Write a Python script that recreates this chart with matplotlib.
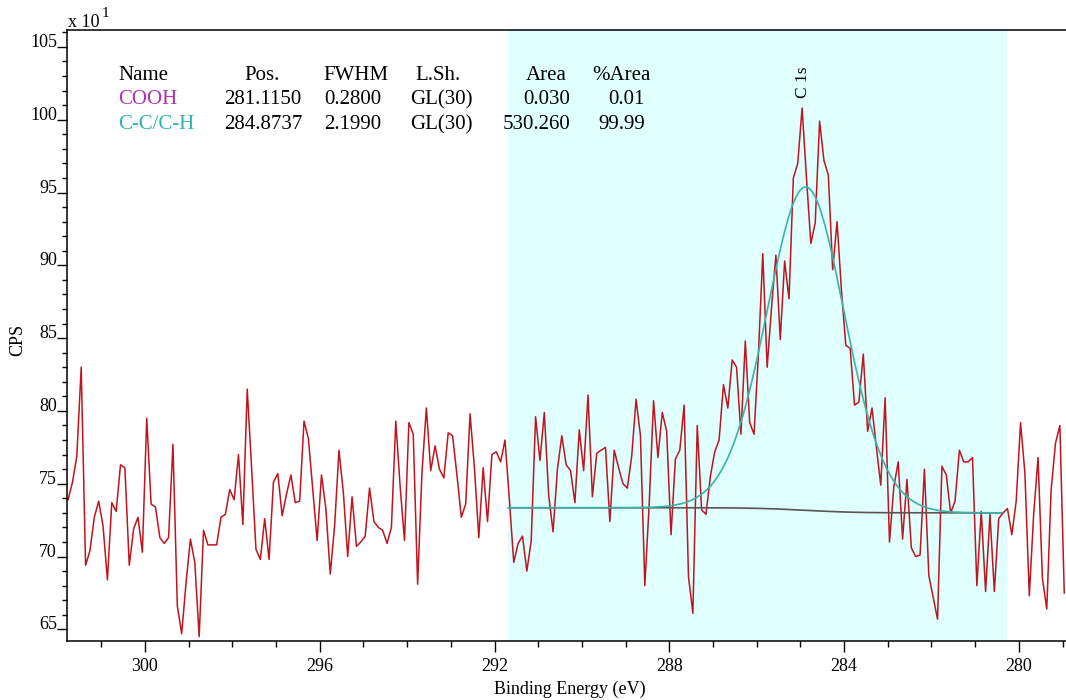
import numpy as np
import matplotlib
matplotlib.use("Agg")
import matplotlib.pyplot as plt
from matplotlib.ticker import MultipleLocator

plt.rcParams['font.family'] = ['Liberation Serif', 'DejaVu Serif']

# energy grid of the scan (eV), 0.1 eV steps going to lower binding energy
be_start = 301.76
be_step = 0.1

# counts (x 10^1)
cps = [
    73.9, 75.1, 76.9, 83.0, 69.4, 70.4, 72.7, 73.8, 72.1, 68.4,
    73.7, 73.1, 76.3, 76.1, 69.4, 71.9, 72.7, 70.3, 79.5, 73.6,
    73.4, 71.3, 70.9, 71.3, 77.7, 66.6, 64.7, 68.2, 71.2, 69.6,
    64.5, 71.8, 70.8, 70.8, 70.8, 72.7, 72.9, 74.6, 73.9, 77.0,
    72.2, 81.5, 76.1, 70.5, 69.8, 72.6, 69.8,
    75.1, 75.7, 72.8, 74.3, 75.6, 73.7, 73.8, 79.3, 78.1, 74.6,
    71.1, 75.6, 73.3, 68.8, 72.1, 77.3, 74.4, 70.0, 74.1, 70.7,
    71.0, 71.4, 74.7, 72.4, 72.0, 71.8, 70.9, 72.0, 79.3, 74.8,
    71.1, 79.2, 78.4, 68.1, 75.8, 80.2, 75.9, 77.6, 76.0, 75.4,
    78.5, 78.3, 75.6, 72.7, 73.6, 79.8, 76.1, 71.3, 76.1, 72.4,
    77.0, 77.2, 76.5, 78.0, 73.9, 69.6, 70.9,
    71.4, 69.0, 71.1, 79.6, 76.6, 79.9, 74.2, 71.7, 76.0, 78.3,
    76.3, 75.9, 73.7, 78.7, 75.9, 81.1, 74.1, 77.1, 77.3, 77.5,
    72.4, 77.3, 76.1, 75.0, 74.7, 76.9, 80.8, 78.3, 68.0, 73.6,
    80.7, 76.8, 79.9, 78.6, 71.5, 76.7, 77.3, 80.4, 68.6, 66.1,
    79.0,
    73.2, 72.9, 75.5, 77.2, 78.0, 81.8, 80.2, 83.5, 83.0, 78.4,
    84.8, 79.2, 78.4, 83.9, 90.8, 83.0, 87.1, 90.7, 84.9, 90.3,
    87.7, 96.0, 97.0, 100.8, 96.0, 91.5, 92.9, 99.9, 97.2, 96.2,
    89.7, 93.0, 88.3, 84.5, 84.3, 80.4, 80.6, 83.9, 78.6, 80.2,
    77.5, 74.9,
    80.9, 71.0, 74.8, 76.5, 71.2, 75.3, 70.6, 70.0, 70.1, 76.0,
    68.7, 67.2, 65.7, 76.2, 75.6, 73.0, 73.8, 77.3, 76.5, 76.5,
    76.8, 68.0, 73.1, 67.6, 72.9, 67.6, 72.6, 73.0, 73.3, 71.5,
    73.8, 79.2, 75.7, 67.3, 72.9, 76.8, 68.5, 66.4, 74.6, 77.8,
    79.0, 67.5,
]
be = be_start - be_step * np.arange(len(cps))

# fit region and Shirley background end values
region_lo, region_hi = 280.40, 291.68
bg_lo, bg_hi = 73.0, 73.35

# peak table
names = ["COOH", "C-C/C-H"]
name_colors = ["#b030b0", "#2fb3aa"]
pos = ["281.1150", "284.8737"]
fwhm = ["0.2800", "2.1990"]
lsh = ["GL(30)", "GL(30)"]
area = ["0.030", "530.260"]
pct = ["0.01", "99.99"]

cc_pos = 284.8737
cc_fwhm = 2.199
cc_height = 22.2


def gl(e, p, w, m=0.3):
    d = (e - p) / w
    return np.exp(-4 * np.log(2) * (1 - m) * d ** 2) / (1 + 4 * m * d ** 2)


xf = np.linspace(region_lo, region_hi, 600)
peak = cc_height * gl(xf, cc_pos, cc_fwhm)
cum = np.concatenate([[0], np.cumsum((peak[1:] + peak[:-1]) / 2 * np.diff(xf))])
bg = bg_lo + (bg_hi - bg_lo) * cum / cum[-1]
env = bg + peak

W, H = 1066, 700
fig = plt.figure(figsize=(W / 100, H / 100), dpi=100)
ax = fig.add_axes([67 / W, 1 - 640.7 / H, (W - 67) / W, (640.7 - 30) / H])

ax.axvspan(280.28, 291.70, color="#e0ffff", zorder=0, lw=0)
ax.plot(be, cps, color="#c0141e", lw=1.1, zorder=2)
ax.plot(xf, bg, color="#5e5252", lw=1.2, zorder=3)
ax.plot(xf, env, color="#3ab3ab", lw=1.2, zorder=3)

ax.set_xlim(301.785, 278.92)
ax.set_ylim(64.22, 106.16)

ax.xaxis.set_major_locator(MultipleLocator(4))
ax.xaxis.set_minor_locator(MultipleLocator(1))
ax.yaxis.set_major_locator(MultipleLocator(5))
ax.yaxis.set_minor_locator(MultipleLocator(1))
ax.tick_params(axis='x', which='major', length=8, width=1, pad=4.5, labelsize=13)
ax.tick_params(axis='x', which='minor', length=4.3, width=1)
ax.tick_params(axis='y', which='major', length=7.2, width=1, pad=0, labelsize=13)
ax.tick_params(axis='y', which='minor', length=3.6, width=1)
for lbl in ax.get_yticklabels():
    lbl.set_verticalalignment('baseline')
ax.spines['right'].set_visible(False)
for s in ['left', 'top', 'bottom']:
    ax.spines[s].set_linewidth(1.1)

ax.text(284.95, 101.5, "C 1s", rotation=90, ha='center', va='bottom', fontsize=12.5)

fig.text(68 / W, 1 - 27 / H, "x 10", fontsize=13, ha='left', va='baseline')
fig.text(102 / W, 1 - 17 / H, "1", fontsize=11, ha='left', va='baseline')
fig.text(18 / W, 1 - 340 / H, "CPS", rotation=90, fontsize=13, ha='center', va='center')
fig.text(570 / W, 1 - 694 / H, "Binding Energy (eV)", fontsize=13, ha='center', va='baseline')

# peak table
fs = 15
rows_y = [80, 104, 129]
fig.text(118 / W, 1 - rows_y[0] / H, "Name", fontsize=fs, ha='left', va='baseline')
fig.text(262 / W, 1 - rows_y[0] / H, "Pos.", fontsize=fs, ha='center', va='baseline')
fig.text(356 / W, 1 - rows_y[0] / H, "FWHM", fontsize=fs, ha='center', va='baseline')
fig.text(438 / W, 1 - rows_y[0] / H, "L.Sh.", fontsize=fs, ha='center', va='baseline')
fig.text(567 / W, 1 - rows_y[0] / H, "Area", fontsize=fs, ha='right', va='baseline')
fig.text(651 / W, 1 - rows_y[0] / H, "%Area", fontsize=fs, ha='right', va='baseline')
for i in range(2):
    y = 1 - rows_y[i + 1] / H
    fig.text(118 / W, y, names[i], fontsize=fs, color=name_colors[i], ha='left', va='baseline')
    fig.text(263 / W, y, pos[i], fontsize=fs, ha='center', va='baseline')
    fig.text(353 / W, y, fwhm[i], fontsize=fs, ha='center', va='baseline')
    fig.text(441 / W, y, lsh[i], fontsize=fs, ha='center', va='baseline')
    fig.text(570 / W, y, area[i], fontsize=fs, ha='right', va='baseline')
    fig.text(645 / W, y, pct[i], fontsize=fs, ha='right', va='baseline')

fig.savefig("out.png", dpi=100)
